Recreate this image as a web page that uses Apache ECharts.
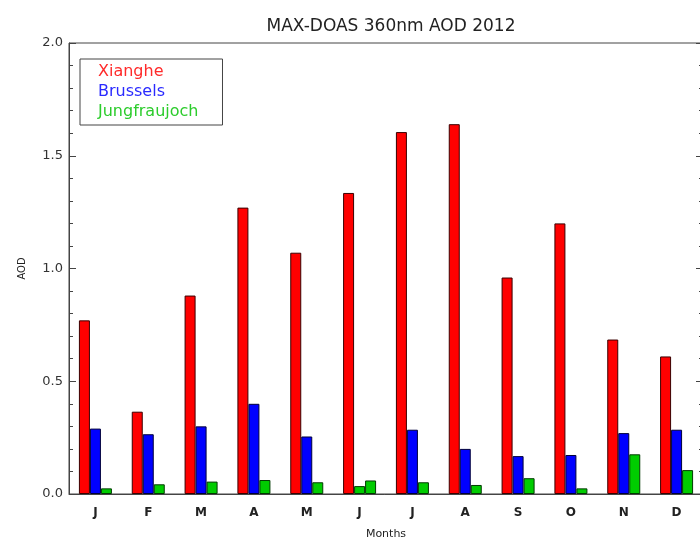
<!DOCTYPE html>
<html>
<head>
<meta charset="utf-8">
<script src="https://cdn.jsdelivr.net/npm/echarts@6/dist/echarts.min.js"></script>
<style>
html,body{margin:0;padding:0;background:#fff;}
#chart{width:700px;height:538px;}
</style>
</head>
<body>
<div id="chart"></div>
<script>
var months = ['J','F','M','A','M','J','J','A','S','O','N','D'];
var xianghe = [0.77, 0.365, 0.88, 1.27, 1.07, 1.335, 1.605, 1.64, 0.96, 1.20, 0.685, 0.61];
var brussels = [0.29, 0.265, 0.30, 0.40, 0.255, null, 0.285, 0.20, 0.168, 0.173, 0.27, 0.285];
var jungfraujoch = [0.025, 0.043, 0.055, 0.062, 0.052, 0.06, 0.052, 0.04, 0.07, 0.025, 0.176, 0.106];
var jungfraujochExtra = [null, null, null, null, null, 0.035, null, null, null, null, null, null];
var yTicks = [0, 0.5, 1.0, 1.5, 2.0];

var FONT = 'DejaVu Sans';
var AXIS = '#444';

var chart = echarts.init(document.getElementById('chart'));
chart.setOption({
  animation: false,
  backgroundColor: '#fff',
  textStyle: { fontFamily: FONT },
  title: {
    text: 'MAX-DOAS 360nm AOD 2012',
    left: 386,
    textAlign: 'center',
    top: 13,
    textStyle: { fontFamily: FONT, fontSize: 17, fontWeight: 'normal', color: '#222' }
  },
  legend: {
    data: [
      { name: 'Xianghe', textStyle: { color: '#ff2a2a' } },
      { name: 'Brussels', textStyle: { color: '#2a2aff' } },
      { name: 'Jungfraujoch', textStyle: { color: '#2ccc2c' } }
    ],
    orient: 'vertical',
    left: 80,
    top: 59,
    icon: 'none',
    itemWidth: 0,
    itemHeight: 10,
    itemGap: 4,
    padding: [5, 24, 5, 13],
    borderColor: '#444',
    borderWidth: 1,
    selectedMode: false,
    textStyle: { fontFamily: FONT, fontSize: 16 }
  },
  grid: {
    left: 69, right: -3, top: 43, bottom: 44,
    outerBoundsMode: 'none',
    containLabel: false,
    show: true, borderColor: AXIS, borderWidth: 1, backgroundColor: 'transparent'
  },
  xAxis: {
    type: 'category',
    data: months,
    name: 'Months',
    nameLocation: 'middle',
    nameGap: 35,
    nameTextStyle: { fontFamily: FONT, fontSize: 11, color: '#222' },
    axisLine: { lineStyle: { color: AXIS } },
    axisTick: { show: false },
    axisLabel: { fontFamily: FONT, fontSize: 12, color: '#222', fontWeight: 'bold', margin: 13 },
    splitLine: { show: false }
  },
  yAxis: [{
    type: 'value',
    min: 0, max: 2.0, interval: 0.5,
    name: 'AOD',
    nameLocation: 'middle',
    nameGap: 42,
    nameTextStyle: { fontFamily: FONT, fontSize: 10, color: '#222' },
    axisLine: { show: true, lineStyle: { color: AXIS } },
    axisTick: { show: true, inside: true, length: 7, lineStyle: { color: AXIS } },
    minorTick: { show: true, splitNumber: 5, length: 4, lineStyle: { color: AXIS } },
    axisLabel: {
      fontFamily: FONT, fontSize: 13, color: '#333', margin: 6,
      formatter: function (v) { return yTicks.indexOf(v) >= 0 ? v.toFixed(1) : ''; }
    },
    splitLine: { show: false }
  }, {
    type: 'value',
    position: 'right',
    min: 0, max: 2.0, interval: 0.5,
    axisLine: { show: true, lineStyle: { color: AXIS } },
    axisTick: { show: true, inside: true, length: 7, lineStyle: { color: AXIS } },
    minorTick: { show: true, splitNumber: 5, length: 4, lineStyle: { color: AXIS } },
    axisLabel: { show: false },
    splitLine: { show: false }
  }],
  series: [
    {
      name: 'Xianghe', type: 'bar', data: xianghe,
      barWidth: 11, barGap: '0%',
      itemStyle: { color: '#ff0000', borderColor: '#3a0000', borderWidth: 1 }
    },
    {
      name: 'Brussels', type: 'bar', data: brussels, stack: 'b',
      barWidth: 11, barGap: '0%',
      itemStyle: { color: '#0000ff', borderColor: '#00003a', borderWidth: 1 }
    },
    {
      name: 'Jungfraujoch (2)', type: 'bar', data: jungfraujochExtra, stack: 'b',
      barWidth: 11, barGap: '0%',
      itemStyle: { color: '#00cc00', borderColor: '#003a00', borderWidth: 1 }
    },
    {
      name: 'Jungfraujoch', type: 'bar', data: jungfraujoch,
      barWidth: 11, barGap: '0%',
      itemStyle: { color: '#00cc00', borderColor: '#003a00', borderWidth: 1 }
    }
  ]
});
</script>
</body>
</html>
